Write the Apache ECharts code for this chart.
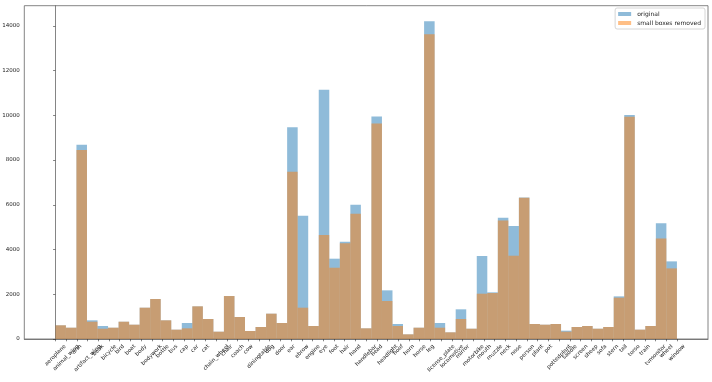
<!DOCTYPE html>
<html>
<head>
<meta charset="utf-8">
<script src="https://cdn.jsdelivr.net/npm/echarts@6/dist/echarts.min.js"></script>
<style>
  html, body { margin: 0; padding: 0; background: #fff; }
  #chart { width: 712px; height: 382px; }
</style>
</head>
<body>
<div id="chart"></div>
<script>
  // part categories, in the order they sit on the x axis
  var categories = [
    'aeroplane', 'animal_wing', 'arm', 'artifact_wing', 'beak', 'bicycle', 'bird', 'boat',
    'body', 'bodywork', 'bottle', 'bus', 'cap', 'car', 'cat', 'chain_wheel', 'chair', 'coach',
    'cow', 'diningtable', 'dog', 'door', 'ear', 'ebrow', 'engine', 'eye', 'foot', 'hair',
    'hand', 'handlebar', 'head', 'headlight', 'hoof', 'horn', 'horse', 'leg', 'license_plate',
    'locomotive', 'mirror', 'motorbike', 'mouth', 'muzzle', 'neck', 'nose', 'person', 'plant',
    'pot', 'pottedplant', 'saddle', 'screen', 'sheep', 'sofa', 'stern', 'tail', 'torso',
    'train', 'tvmonitor', 'wheel', 'window'
  ];

  var original = [
    612, 505, 8680, 835, 580, 505, 773, 640, 1400, 1787, 835, 417, 715, 1460, 894, 327,
    1921, 983, 357, 536, 1132, 715, 9470, 5510, 581, 11140, 3590, 4350, 6000, 477, 9950,
    2175, 670, 208, 505, 14200, 715, 298, 1327, 460, 3710, 2085, 5420, 5050, 6330, 670,
    640, 670, 372, 536, 581, 460, 536, 1906, 10010, 417, 581, 5170, 3470
  ];

  var smallRemoved = [
    612, 505, 8445, 773, 460, 505, 773, 640, 1400, 1787, 835, 417, 477, 1460, 894, 327,
    1921, 983, 357, 536, 1132, 715, 7476, 1400, 581, 4647, 3186, 4276, 5600, 477, 9638,
    1698, 581, 208, 505, 13628, 505, 298, 894, 460, 2025, 2055, 5302, 3723, 6320, 670,
    640, 670, 327, 536, 581, 460, 536, 1847, 9932, 417, 581, 4498, 3157
  ];

  var yTicks = [0, 2000, 4000, 6000, 8000, 10000, 12000, 14000];
  var xTicks = categories.map(function (c, i) { return i; });

  var fontSize = 5.5;
  var fontFamily = 'DejaVu Sans';
  var textColor = '#222';
  var spineColor = '#666';

  // like plt.hist on the category codes: as many bins as categories over [0, n-1]
  var binCount = categories.length;
  var binWidth = (categories.length - 1) / binCount;

  // matplotlib centres rotated tick labels under the tick; echarts anchors the end,
  // so every label gets its own padding to push its centre back under the tick
  var ctx = document.createElement('canvas').getContext('2d');
  ctx.font = fontSize + 'px "' + fontFamily + '"';
  var labelRich = {};
  categories.forEach(function (c, i) {
    var p = (ctx.measureText(c).width + fontSize) / 2;
    labelRich['c' + i] = {
      fontSize: fontSize,
      fontFamily: fontFamily,
      color: textColor,
      padding: [p, p, 0, 0]
    };
  });

  function binRect(params, api) {
    var i = api.value(0);
    var topLeft = api.coord([i * binWidth, api.value(1)]);
    var bottomRight = api.coord([(i + 1) * binWidth, 0]);
    return {
      type: 'rect',
      shape: {
        x: topLeft[0],
        y: topLeft[1],
        width: bottomRight[0] - topLeft[0],
        height: bottomRight[1] - topLeft[1]
      },
      style: { fill: api.visual('color'), opacity: 0.5 }
    };
  }

  function toPairs(values) {
    return values.map(function (v, i) { return [i, v]; });
  }

  var chart = echarts.init(document.getElementById('chart'), null, { renderer: 'canvas' });
  chart.setOption({
    animation: false,
    backgroundColor: '#fff',
    textStyle: { fontFamily: fontFamily },
    grid: {
      left: 24.3, right: 4, top: 5.7, bottom: 43,
      show: true, borderColor: spineColor, borderWidth: 0.8,
      outerBoundsMode: 'none'
    },
    legend: {
      orient: 'vertical',
      right: 7,
      top: 8,
      padding: [3, 4, 3, 3],
      itemGap: 3,
      itemWidth: 13,
      itemHeight: 4,
      icon: 'rect',
      borderColor: '#ccc',
      borderWidth: 0.8,
      borderRadius: 2,
      backgroundColor: 'rgba(255,255,255,0.8)',
      textStyle: { fontSize: 6, color: textColor, padding: [0, 0, 0, 1] },
      data: ['original', 'small boxes removed']
    },
    xAxis: {
      type: 'value',
      min: -2.9,
      max: 60.9,
      splitLine: { show: false },
      axisLine: { show: true, onZero: false, lineStyle: { color: spineColor, width: 0.8 } },
      axisTick: { show: true, customValues: xTicks, length: 2.3, lineStyle: { color: '#333', width: 0.6 } },
      axisLabel: {
        customValues: xTicks,
        rotate: 45,
        margin: 4.6,
        align: 'center',
        verticalAlign: 'middle',
        formatter: function (v) {
          return '{c' + v + '|' + categories[v] + '}';
        },
        rich: labelRich
      }
    },
    yAxis: {
      type: 'value',
      min: 0,
      max: 14900,
      splitLine: { show: false },
      axisLine: { show: true, lineStyle: { color: spineColor, width: 0.8 } },
      axisTick: { show: true, customValues: yTicks, length: 2.3, lineStyle: { color: '#333', width: 0.6 } },
      axisLabel: {
        customValues: yTicks,
        margin: 4.6,
        fontSize: fontSize,
        color: textColor,
        formatter: function (v) { return String(v); }
      }
    },
    series: [
      {
        name: 'original',
        type: 'custom',
        renderItem: binRect,
        itemStyle: { color: '#1f77b4', opacity: 0.5 },
        encode: { x: 0, y: 1 },
        data: toPairs(original)
      },
      {
        name: 'small boxes removed',
        type: 'custom',
        renderItem: binRect,
        itemStyle: { color: '#ff7f0e', opacity: 0.5 },
        encode: { x: 0, y: 1 },
        data: toPairs(smallRemoved)
      }
    ]
  });
</script>
</body>
</html>
